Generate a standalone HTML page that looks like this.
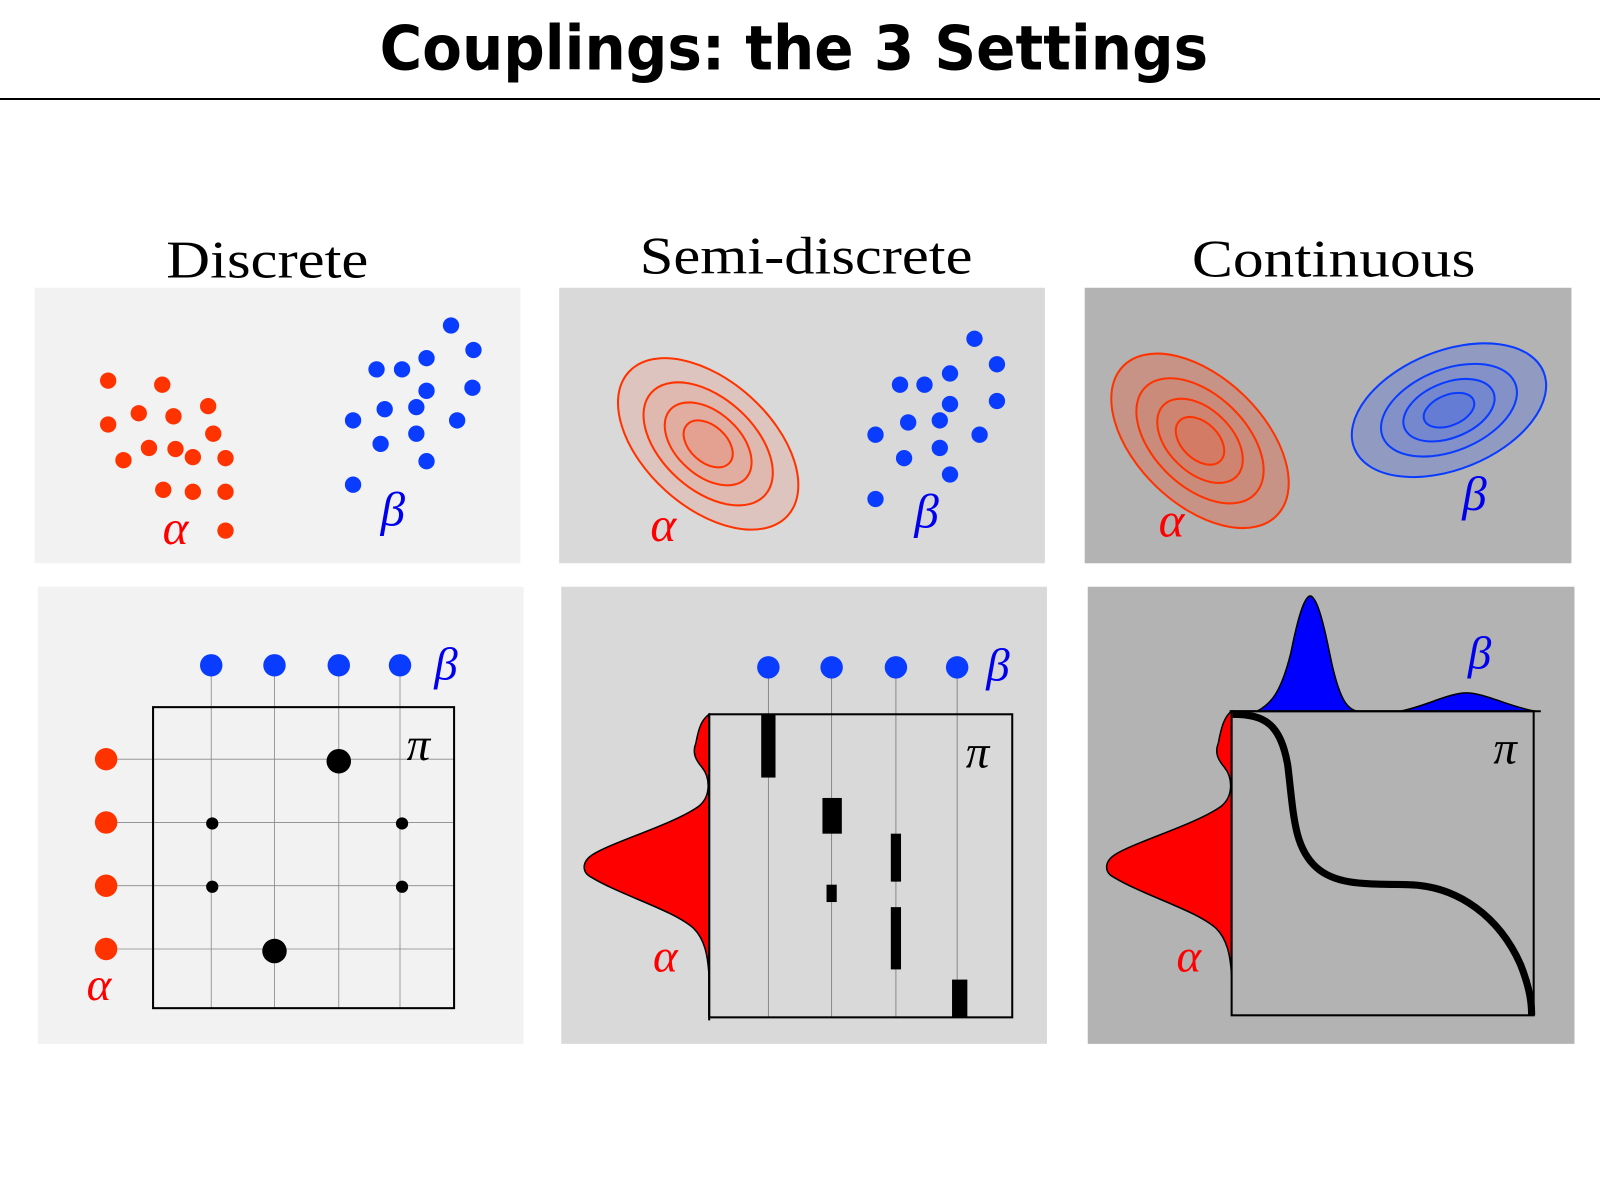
<!DOCTYPE html>
<html><head><style>html,body{margin:0;padding:0;background:#fff}svg{display:block}</style></head>
<body>
<svg width="1600" height="1200" viewBox="0 0 1568 1176" preserveAspectRatio="none" xmlns="http://www.w3.org/2000/svg">
<rect width="1568" height="1176" fill="#fff"/>
<text x="778" y="68" text-anchor="middle" font-family="DejaVu Sans, Liberation Sans, sans-serif" font-weight="bold" font-size="60" textLength="812" lengthAdjust="spacingAndGlyphs">Couplings: the 3 Settings</text>
<line x1="0" y1="97" x2="1568" y2="97" stroke="#000" stroke-width="2"/>
<g font-family="Liberation Serif, serif" font-size="52" text-anchor="middle" lengthAdjust="spacingAndGlyphs">
<text x="262" y="272" textLength="198" lengthAdjust="spacingAndGlyphs">Discrete</text>
<text x="790" y="268" textLength="326" lengthAdjust="spacingAndGlyphs">Semi-discrete</text>
<text x="1307" y="271" textLength="278" lengthAdjust="spacingAndGlyphs">Continuous</text>
</g>
<rect x="34" y="282" width="476" height="270" fill="#f2f2f2"/>
<rect x="548" y="282" width="476" height="270" fill="#d9d9d9"/>
<rect x="1063" y="282" width="477" height="270" fill="#b3b3b3"/>
<rect x="37" y="575" width="476" height="448" fill="#f2f2f2"/>
<rect x="550" y="575" width="476" height="448" fill="#d9d9d9"/>
<rect x="1066" y="575" width="477" height="448" fill="#b3b3b3"/>

<!-- panel 1 top -->
<g fill="#ff3300">
<circle cx="106" cy="373" r="8"/><circle cx="159" cy="377" r="8"/><circle cx="204" cy="398" r="8"/><circle cx="136" cy="405" r="8"/><circle cx="170" cy="408" r="8"/><circle cx="106" cy="416" r="8"/><circle cx="209" cy="425" r="8"/><circle cx="146" cy="439" r="8"/><circle cx="172" cy="440" r="8"/><circle cx="121" cy="451" r="8"/><circle cx="189" cy="448" r="8"/><circle cx="221" cy="449" r="8"/><circle cx="160" cy="480" r="8"/><circle cx="189" cy="482" r="8"/><circle cx="221" cy="482" r="8"/><circle cx="221" cy="520" r="8"/>
</g>
<g fill="#0a3cff">
<circle cx="442" cy="319" r="8"/><circle cx="464" cy="343" r="8"/><circle cx="369" cy="362" r="8"/><circle cx="394" cy="362" r="8"/><circle cx="418" cy="351" r="8"/><circle cx="418" cy="383" r="8"/><circle cx="463" cy="380" r="8"/><circle cx="346" cy="412" r="8"/><circle cx="377" cy="401" r="8"/><circle cx="408" cy="399" r="8"/><circle cx="448" cy="412" r="8"/><circle cx="373" cy="435" r="8"/><circle cx="408" cy="425" r="8"/><circle cx="418" cy="452" r="8"/><circle cx="346" cy="475" r="8"/>
</g>
<g font-family="Liberation Serif, serif" font-style="italic" font-size="48">
<text x="172" y="533" fill="#ff0000" text-anchor="middle">α</text>
<text x="385" y="515" fill="#0000ee" text-anchor="middle">β</text>
</g>

<!-- panel 2 top -->
<g transform="translate(694,435) rotate(42)" stroke="#ff3300" stroke-width="2">
<ellipse rx="105" ry="62" fill="#ff3300" fill-opacity="0.12"/>
<ellipse rx="75" ry="45" fill="#ff3300" fill-opacity="0.08"/>
<ellipse rx="50" ry="31" fill="#ff3300" fill-opacity="0.08"/>
<ellipse rx="28" ry="18" fill="#ff3300" fill-opacity="0.1"/>
</g>
<g fill="#0a3cff">
<circle cx="955" cy="332" r="8"/><circle cx="977" cy="357" r="8"/><circle cx="882" cy="377" r="8"/><circle cx="906" cy="377" r="8"/><circle cx="931" cy="366" r="8"/><circle cx="931" cy="396" r="8"/><circle cx="977" cy="393" r="8"/><circle cx="858" cy="426" r="8"/><circle cx="890" cy="414" r="8"/><circle cx="921" cy="412" r="8"/><circle cx="960" cy="426" r="8"/><circle cx="886" cy="449" r="8"/><circle cx="921" cy="439" r="8"/><circle cx="931" cy="465" r="8"/><circle cx="858" cy="489" r="8"/>
</g>
<g font-family="Liberation Serif, serif" font-style="italic" font-size="48">
<text x="650" y="530" fill="#ff0000" text-anchor="middle">α</text>
<text x="908" y="517" fill="#0000ee" text-anchor="middle">β</text>
</g>

<!-- panel 3 top -->
<g transform="translate(1176,432) rotate(44)" stroke="#ff3300" stroke-width="2">
<ellipse rx="105" ry="62" fill="#ff3300" fill-opacity="0.25"/>
<ellipse rx="75" ry="45" fill="#ff3300" fill-opacity="0.08"/>
<ellipse rx="50" ry="31" fill="#ff3300" fill-opacity="0.08"/>
<ellipse rx="28" ry="18" fill="#ff3300" fill-opacity="0.1"/>
</g>
<g transform="translate(1420,402) rotate(-22)" stroke="#0a3cff" stroke-width="2">
<ellipse rx="100" ry="58" fill="#0a3cff" fill-opacity="0.2"/>
<ellipse rx="70" ry="40" fill="#0a3cff" fill-opacity="0.1"/>
<ellipse rx="47" ry="27" fill="#0a3cff" fill-opacity="0.1"/>
<ellipse rx="26" ry="15" fill="#0a3cff" fill-opacity="0.15"/>
</g>
<g font-family="Liberation Serif, serif" font-style="italic" font-size="48">
<text x="1148" y="526" fill="#ff0000" text-anchor="middle">α</text>
<text x="1445" y="500" fill="#0000ee" text-anchor="middle">β</text>
</g>

<!-- panel 1 bottom -->
<g stroke="#888" stroke-width="0.8">
<line x1="207" y1="652" x2="207" y2="988"/><line x1="269" y1="652" x2="269" y2="988"/><line x1="332" y1="652" x2="332" y2="988"/><line x1="392" y1="652" x2="392" y2="988"/>
<line x1="104" y1="744" x2="445" y2="744"/><line x1="104" y1="806" x2="445" y2="806"/><line x1="104" y1="868" x2="445" y2="868"/><line x1="104" y1="930" x2="445" y2="930"/>
</g>
<rect x="150" y="693" width="295" height="295" fill="none" stroke="#000" stroke-width="2"/>
<g fill="#0a3cff"><circle cx="207" cy="652" r="11"/><circle cx="269" cy="652" r="11"/><circle cx="332" cy="652" r="11"/><circle cx="392" cy="652" r="11"/></g>
<g fill="#ff3300"><circle cx="104" cy="744" r="11"/><circle cx="104" cy="806" r="11"/><circle cx="104" cy="868" r="11"/><circle cx="104" cy="930" r="11"/></g>
<g fill="#000"><circle cx="332" cy="746" r="12"/><circle cx="208" cy="807" r="6"/><circle cx="394" cy="807" r="6"/><circle cx="208" cy="869" r="6"/><circle cx="394" cy="869" r="6"/><circle cx="269" cy="932" r="12"/></g>
<g font-family="Liberation Serif, serif" font-style="italic" font-size="46">
<text x="97" y="980" fill="#ff0000" text-anchor="middle">α</text>
<text x="437" y="666" fill="#0000ee" text-anchor="middle">β</text>
<text x="410" y="745" fill="#000" text-anchor="middle">π</text>
</g>

<!-- panel 2 bottom -->
<g stroke="#777" stroke-width="0.8">
<line x1="753" y1="654" x2="753" y2="997"/><line x1="815" y1="654" x2="815" y2="997"/><line x1="878" y1="654" x2="878" y2="997"/><line x1="938" y1="654" x2="938" y2="997"/>
</g>
<path d="M695,700 C688,705 685,712 682,728 C678,738 682,745 688,752 C696,762 697,780 685,790 C660,808 600,825 580,838 C570,845 570,855 580,860 C610,878 660,892 680,910 C690,920 694,935 695,960 Z" fill="#ff0000" stroke="#000" stroke-width="1.5"/>
<rect x="695" y="700" width="297" height="297" fill="none" stroke="#000" stroke-width="2"/>
<line x1="695" y1="700" x2="695" y2="1000" stroke="#000" stroke-width="2"/>
<g fill="#000">
<rect x="746" y="700" width="14" height="62"/><rect x="806" y="782" width="19" height="35"/><rect x="810" y="867" width="10" height="17"/><rect x="873" y="817" width="10" height="47"/><rect x="873" y="889" width="10" height="61"/><rect x="933" y="960" width="15" height="37"/>
</g>
<g fill="#0a3cff"><circle cx="753" cy="654" r="11"/><circle cx="815" cy="654" r="11"/><circle cx="878" cy="654" r="11"/><circle cx="938" cy="654" r="11"/></g>
<g font-family="Liberation Serif, serif" font-style="italic" font-size="46">
<text x="652" y="952" fill="#ff0000" text-anchor="middle">α</text>
<text x="978" y="667" fill="#0000ee" text-anchor="middle">β</text>
<text x="958" y="752" fill="#000" text-anchor="middle">π</text>
</g>

<!-- panel 3 bottom -->
<path d="M1232,697 C1245,690 1255,680 1265,640 C1272,605 1278,585 1284,584 C1290,585 1296,605 1303,640 C1312,685 1320,695 1330,697 L1372,697 C1395,693 1420,679 1437,679 C1455,679 1480,693 1505,697 Z" fill="#0000ff" stroke="#000" stroke-width="1.5"/>
<path d="M1207,697 C1200,702 1197,712 1194,728 C1190,738 1194,745 1200,752 C1208,762 1209,780 1197,790 C1172,808 1112,825 1092,838 C1082,845 1082,855 1092,860 C1122,878 1172,892 1192,910 C1202,920 1206,935 1207,958 Z" fill="#ff0000" stroke="#000" stroke-width="1.5"/>
<rect x="1207" y="697" width="296" height="298" fill="none" stroke="#000" stroke-width="2"/>
<line x1="1205" y1="697" x2="1510" y2="697" stroke="#000" stroke-width="2"/>
<path d="M1208,700 C1240,700 1255,710 1262,750 C1268,800 1268,830 1290,850 C1310,868 1340,866 1380,867 C1430,868 1470,900 1490,945 C1500,970 1501,985 1501,995" fill="none" stroke="#000" stroke-width="7"/>
<g font-family="Liberation Serif, serif" font-style="italic" font-size="46">
<text x="1165" y="952" fill="#ff0000" text-anchor="middle">α</text>
<text x="1450" y="655" fill="#0000ee" text-anchor="middle">β</text>
<text x="1475" y="748" fill="#000" text-anchor="middle">π</text>
</g>
</svg>
</body></html>
